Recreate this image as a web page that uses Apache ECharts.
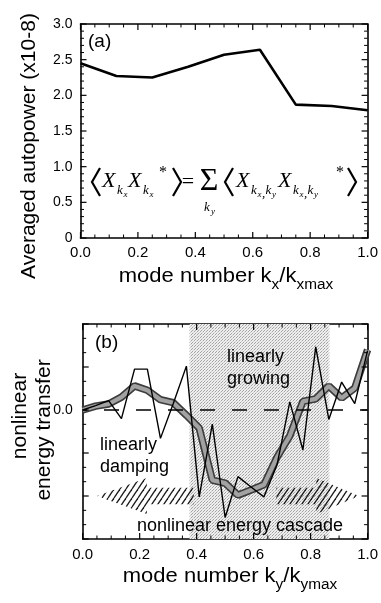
<!DOCTYPE html>
<html>
<head>
<meta charset="utf-8">
<script src="https://cdn.jsdelivr.net/npm/echarts@6/dist/echarts.min.js"></script>
<style>
  html, body { margin: 0; padding: 0; background: #fff; }
  #wrap { position: relative; width: 381px; height: 603px; background: #fff; }
  #panelA { position: absolute; left: 0; top: 0; width: 381px; height: 300px; z-index: 1; }
  #panelB { position: absolute; left: 0; top: 300px; width: 381px; height: 303px; z-index: 1; }
  #labels { position: absolute; left: 0; top: 0; width: 381px; height: 603px; z-index: 2; }
</style>
</head>
<body>
<div id="wrap">
  <div id="panelA"></div>
  <div id="panelB"></div>
  <div id="labels"></div>
</div>
<script>
// ---- panel (a): averaged autopower against kx / kxmax ----
const kxValues = [0, 0.125, 0.25, 0.375, 0.5, 0.625, 0.75, 0.875, 1.0];
const autopower = [2.45, 2.27, 2.25, 2.40, 2.57, 2.64, 1.87, 1.85, 1.79];
const kxTickLabels = ['0.0', '0.2', '0.4', '0.6', '0.8', '1.0'];
const powerTickLabels = ['0', '0.5', '1.0', '1.5', '2.0', '2.5', '3.0'];

// ---- panel (b): nonlinear energy transfer against ky / kymax ----
const kyValues = [0.000, 0.045, 0.091, 0.136, 0.182, 0.227, 0.273, 0.318, 0.364, 0.409, 0.455, 0.500,
                  0.545, 0.591, 0.636, 0.682, 0.727, 0.773, 0.818, 0.864, 0.909, 0.955, 1.000];
const transferRaw = [0.00, 0.10, 0.22, -0.20, 0.95, 0.95, -0.66, 0.15, 1.02, -2.02, -0.33, -2.50,
                     -1.55, -1.79, -2.02, -1.28, 0.19, -0.93, 1.47, -0.22, 0.65, 0.15, 1.38];
const transferSmooth = [0.00, 0.09, 0.14, 0.30, 0.56, 0.46, 0.24, 0.17, -0.12, -0.42, -1.63, -1.70,
                        -1.98, -1.86, -1.74, -1.10, -0.60, 0.20, 0.26, 0.56, 0.28, 0.51, 1.40];
const kyTickLabels = ['0.0', '0.2', '0.4', '0.6', '0.8', '1.0'];
const growingBand = [0.375, 0.866];          // linearly growing ky range
// cascade arrows: tail, head base, tip (ky) and level of the shaft
const arrowTail = [0.39, 0.68];
const arrowBarb = [0.225, 0.82];
const arrowTip = [0.05, 0.97];
const arrowLevel = [-2.0, -2.0];

const SANS = '"Liberation Sans", Arial, Helvetica, sans-serif';
const SERIF = '"Liberation Serif", "Times New Roman", serif';

function pairs(xs, ys) { return xs.map((x, i) => [x, ys[i]]); }

// fine dotted grey fill for the growing band
function makeStipple() {
  const c = document.createElement('canvas');
  c.width = 3; c.height = 3;
  const g = c.getContext('2d');
  g.fillStyle = '#eeeeee'; g.fillRect(0, 0, 3, 3);
  g.fillStyle = '#a4a4a4';
  g.fillRect(0, 0, 1, 1);
  g.fillRect(2, 1, 1, 1);
  g.fillStyle = '#cccccc';
  g.fillRect(1, 2, 1, 1);
  return c;
}
// steep diagonal hatching for the cascade arrows
function makeHatch() {
  const w = 6, h = 9;
  const c = document.createElement('canvas');
  c.width = w; c.height = h;
  const g = c.getContext('2d');
  g.strokeStyle = '#1a1a1a'; g.lineWidth = 1.3;
  for (const dx of [-w, 0, w]) {
    g.beginPath(); g.moveTo(dx, h); g.lineTo(dx + w, 0); g.stroke();
  }
  return c;
}
const stipple = { image: makeStipple(), repeat: 'repeat' };
const hatch = { image: makeHatch(), repeat: 'repeat' };

// framed axes: lines on all four sides, labels on bottom/left only
function boxAxis(position, min, max, interval, label) {
  return {
    type: 'value', position, min, max, interval,
    axisLine: { show: true, onZero: false, lineStyle: { color: '#000', width: 1.6 } },
    splitLine: { show: false },
    axisTick: { show: false },
    minorTick: { show: false },
    axisLabel: label ? Object.assign({ show: true, color: '#000', fontFamily: SANS }, label) : { show: false }
  };
}

// inward tick marks on every side of the frame, placed through the axis scales
function tickItems(xMin, xMax, xStep, xMajorEvery, yMin, yMax, yStepCount, yMajorEvery) {
  const items = [];
  const nx = Math.round((xMax - xMin) / xStep);
  for (let i = 0; i <= nx; i++) items.push([xMin + i * xStep, yMin, 0, i % xMajorEvery === 0 ? 1 : 0]);
  for (let i = 0; i <= yStepCount; i++) {
    items.push([xMin, yMin + (yMax - yMin) * i / yStepCount, 1, i % yMajorEvery === 0 ? 1 : 0]);
  }
  return items;
}
function tickSeries(items) {
  return {
    name: 'frame ticks', type: 'custom', xAxisIndex: 0, yAxisIndex: 0, z: 10, silent: true,
    encode: { x: 0, y: 1 }, clip: false, data: items,
    renderItem(params, api) {
      const cs = params.coordSys;
      const len = api.value(3) ? 6 : 3.5;
      const w = api.value(3) ? 1.2 : 1;
      const p = api.coord([api.value(0), api.value(1)]);
      let a, b;
      if (api.value(2) === 0) {
        const x = p[0], yb = cs.y + cs.height, yt = cs.y;
        a = [[x, yb], [x, yb - len]];
        b = [[x, yt], [x, yt + len]];
      } else {
        const y = p[1], xl = cs.x, xr = cs.x + cs.width;
        a = [[xl, y], [xl + len, y]];
        b = [[xr, y], [xr - len, y]];
      }
      const st = { stroke: '#000', lineWidth: w, fill: null };
      return { type: 'group', children: [
        { type: 'polyline', shape: { points: a }, style: st },
        { type: 'polyline', shape: { points: b }, style: st }
      ] };
    }
  };
}

// ================= panel (a) =================
const chartA = echarts.init(document.getElementById('panelA'));
chartA.setOption({
  animation: false,
  grid: { left: 80.5, top: 24, right: 12.5, height: 214 },
  xAxis: [
    boxAxis('bottom', 0, 1, 0.2, { margin: 7, fontSize: 15, formatter: v => kxTickLabels[Math.round(v / 0.2)] }),
    boxAxis('top', 0, 1, 0.2, null)
  ],
  yAxis: [
    boxAxis('left', 0, 3, 0.5, { margin: 8, fontSize: 14, formatter: v => powerTickLabels[Math.round(v / 0.5)] }),
    boxAxis('right', 0, 3, 0.5, null)
  ],
  series: [
    {
      name: 'autopower', type: 'line', xAxisIndex: 0, yAxisIndex: 0,
      data: pairs(kxValues, autopower), symbol: 'none',
      lineStyle: { color: '#000', width: 2.6 }
    },
    tickSeries(tickItems(0, 1, 0.05, 4, 0, 3, 30, 5))
  ]
});

// ================= panel (b) =================
const chartB = echarts.init(document.getElementById('panelB'));
chartB.setOption({
  animation: false,
  grid: { left: 82.7, top: 24, right: 11, height: 215 },
  xAxis: [
    boxAxis('bottom', 0, 1, 0.2, { margin: 8, fontSize: 15, formatter: v => kyTickLabels[Math.round(v / 0.2)] }),
    boxAxis('top', 0, 1, 0.2, null)
  ],
  yAxis: [
    boxAxis('left', -3, 2, 1, { margin: 10, fontSize: 14, formatter: v => (v === 0 ? '0.0' : '') }),
    boxAxis('right', -3, 2, 1, null)
  ],
  series: [
    {
      name: 'band', type: 'line', xAxisIndex: 0, yAxisIndex: 0, data: [], z: 1,
      markArea: { silent: true, itemStyle: { color: stipple },
                  data: [[{ xAxis: growingBand[0] }, { xAxis: growingBand[1] }]] },
      markLine: { silent: true, symbol: 'none', label: { show: false },
                  lineStyle: { color: '#000', width: 1.6, type: [15, 17], dashOffset: 10.7 },
                  data: [{ yAxis: 0 }] }
    },
    {
      name: 'cascade', type: 'custom', xAxisIndex: 0, yAxisIndex: 0, z: 2,
      data: arrowTail.map((v, i) => [v, arrowBarb[i], arrowTip[i], arrowLevel[i]]),
      renderItem(params, api) {
        const tail = api.value(0), barb = api.value(1), tip = api.value(2), yc = api.value(3);
        const head = 0.42, shaft = 0.19;
        const pts = [[tip, yc], [barb, yc + head], [barb, yc + shaft], [tail, yc + shaft],
                     [tail, yc - shaft], [barb, yc - shaft], [barb, yc - head]].map(p => api.coord(p));
        return { type: 'polygon', shape: { points: pts }, style: { fill: hatch, stroke: null } };
      }
    },
    {
      name: 'smoothed edge', type: 'line', xAxisIndex: 0, yAxisIndex: 0,
      data: pairs(kyValues, transferSmooth), symbol: 'none',
      lineStyle: { color: '#3c3c3c', width: 7.5 }, z: 3
    },
    {
      name: 'smoothed', type: 'line', xAxisIndex: 0, yAxisIndex: 0,
      data: pairs(kyValues, transferSmooth), symbol: 'none',
      lineStyle: { color: '#a2a2a2', width: 4.2 }, z: 4
    },
    {
      name: 'transfer', type: 'line', xAxisIndex: 0, yAxisIndex: 0,
      data: pairs(kyValues, transferRaw), symbol: 'none',
      lineStyle: { color: '#000', width: 1.4 }, z: 5
    },
    tickSeries(tickItems(0, 1, 0.05, 4, -3, 2, 15, 3))
  ]
});

// ================= titles, annotations and the formula =================
function t(x, y, text, font, align, extra) {
  return Object.assign({
    type: 'text', x, y, silent: true,
    style: { text, font, fill: '#000', align: align || 'left', textAlign: align || 'left',
             verticalAlign: 'middle', textVerticalAlign: 'middle' }
  }, extra || {});
}
function bracket(x0, x1, yc, half) {
  return { type: 'polyline', silent: true,
    shape: { points: [[x1, yc - half], [x0, yc], [x1, yc + half]] },
    style: { stroke: '#000', lineWidth: 2.2, fill: null } };
}
const titleRich = {
  m: { fontSize: 20, fontFamily: SANS, lineHeight: 26, verticalAlign: 'top' },
  s: { fontSize: 14, fontFamily: SANS, lineHeight: 14, verticalAlign: 'bottom' }
};
function axisTitle(x, y, main, sub, tail, subTail) {
  return { type: 'text', x, y, silent: true, scaleX: 1.1,
    style: { text: '{m|' + main + '}{s|' + sub + '}{m|' + tail + '}{s|' + subTail + '}', rich: titleRich,
             align: 'center', textAlign: 'center', verticalAlign: 'middle', textVerticalAlign: 'middle' } };
}
const itX = 'italic 22px ' + SERIF;
const itS = 'italic 13px ' + SERIF;
const itSS = 'italic 9px ' + SERIF;

const chartLabels = echarts.init(document.getElementById('labels'));
chartLabels.setOption({
  backgroundColor: 'transparent',
  animation: false,
  graphic: [
    // panel (a)
    t(88, 42, '(a)', '19px ' + SANS),
    t(29, 146, 'Averaged autopower (x10-8)', '21px ' + SANS, 'center', { rotation: Math.PI / 2 }),
    axisTitle(226, 279, 'mode number k', 'x', '/k', 'xmax'),
    // <X_kx X_kx*> = sum over ky of <X_kx,ky X_kx,ky*>
    bracket(92, 100, 182, 14),
    t(102, 181, 'X', itX), t(117, 191, 'k', itS), t(123.5, 195, 'x', itSS),
    t(128, 181, 'X', itX), t(143, 191, 'k', itS), t(149.5, 195, 'x', itSS),
    t(159, 173, '*', '16px ' + SERIF),
    bracket(181, 173, 182, 14),
    t(188, 182, '=', '22px ' + SERIF, 'center'),
    t(209, 182, 'Σ', '32px ' + SERIF, 'center'),
    t(204, 208, 'k', itS), t(211, 212, 'y', itSS),
    bracket(225, 233, 182, 14),
    t(236, 181, 'X', itX), t(251, 191, 'k', itS), t(257.5, 195, 'x', itSS),
    t(262, 194, ',', itS), t(265.5, 191, 'k', itS), t(272, 195, 'y', itSS),
    t(278, 181, 'X', itX), t(293, 191, 'k', itS), t(299.5, 195, 'x', itSS),
    t(304, 194, ',', itS), t(307.5, 191, 'k', itS), t(314, 195, 'y', itSS),
    t(336, 173, '*', '16px ' + SERIF),
    bracket(356, 348, 182, 14),
    // panel (b)
    t(95, 343, '(b)', '19px ' + SANS),
    t(20, 416, 'nonlinear', '21px ' + SANS, 'center', { rotation: Math.PI / 2 }),
    t(44, 430, 'energy transfer', '21px ' + SANS, 'center', { rotation: Math.PI / 2 }),
    t(227, 357, 'linearly', '18px ' + SANS),
    t(227, 379, 'growing', '18px ' + SANS),
    t(100, 445, 'linearly', '18px ' + SANS),
    t(100, 467, 'damping', '18px ' + SANS),
    t(240, 526, 'nonlinear energy cascade', '18px ' + SANS, 'center'),
    axisTitle(230, 579, 'mode number k', 'y', '/k', 'ymax')
  ]
});
</script>
</body>
</html>
